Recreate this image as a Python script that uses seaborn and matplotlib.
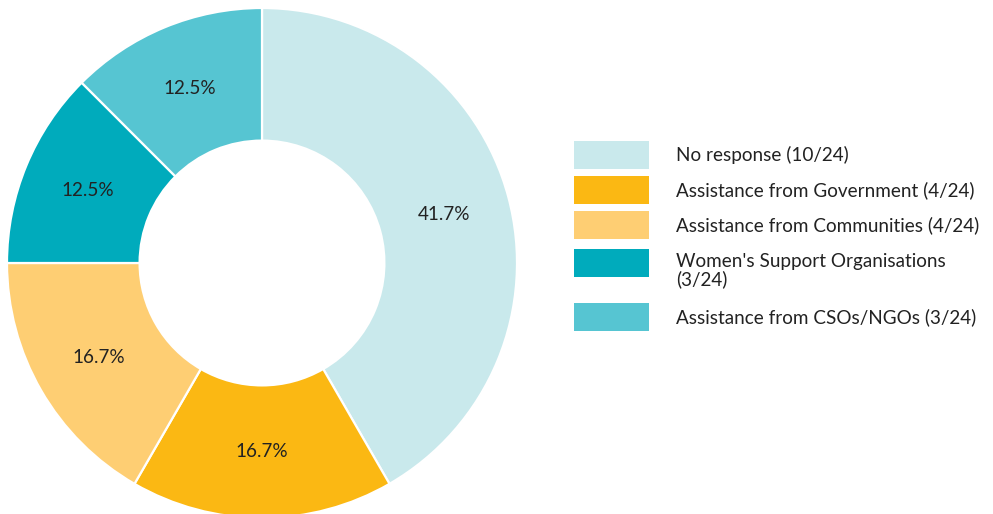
import matplotlib
matplotlib.use("Agg")
import matplotlib.pyplot as plt
from matplotlib.patches import Rectangle
import seaborn as sns

categories = [
    "No response (10/24)",
    "Assistance from Government (4/24)",
    "Assistance from Communities (4/24)",
    "Women's Support Organisations\n(3/24)",
    "Assistance from CSOs/NGOs (3/24)",
]
counts = [10, 4, 4, 3, 3]
colors = ["#C9E9EC", "#FBB813", "#FECE73", "#00ABBC", "#56C5D2"]

sns.set_theme(style="white")
plt.rcParams["font.family"] = ["Lato", "DejaVu Sans"]

W, H = 993, 514
fig = plt.figure(figsize=(W / 100, H / 100), dpi=100)

cx, cy, r = 262, 263, 255
ax = fig.add_axes([(cx - r) / W, (H - cy - r) / H, 2 * r / W, 2 * r / H])

palette = sns.color_palette(colors)
wedges, texts, autotexts = ax.pie(
    counts,
    colors=palette,
    startangle=90,
    counterclock=False,
    radius=1.0,
    autopct="%.1f%%",
    pctdistance=0.74,
    wedgeprops=dict(width=0.52, edgecolor="white", linewidth=1.6),
    textprops=dict(fontsize=13.6, color="#222222"),
)
ax.set_xlim(-1, 1)
ax.set_ylim(-1, 1)
ax.set_aspect("equal")
ax.axis("off")

# Legend: colour swatches with labels to their right (pixel layout, top-down)
box_x, box_w, box_h = 574, 75, 28
box_tops = [141, 176, 211, 249, 303]
text_x = 676
for top, label, col in zip(box_tops, categories, palette):
    fig.patches.append(Rectangle(
        (box_x / W, 1 - (top + box_h) / H), box_w / W, box_h / H,
        transform=fig.transFigure, facecolor=col, edgecolor="none"))
    n_lines = label.count("\n") + 1
    if n_lines == 1:
        fig.text(text_x / W, 1 - (top + box_h / 2) / H, label,
                 fontsize=13.6, color="#222222", va="center", ha="left")
    else:
        fig.text(text_x / W, 1 - (top + 4) / H, label,
                 fontsize=13.6, color="#222222", va="top", ha="left",
                 linespacing=1.0)

fig.savefig("out.png", dpi=100, facecolor="white")
